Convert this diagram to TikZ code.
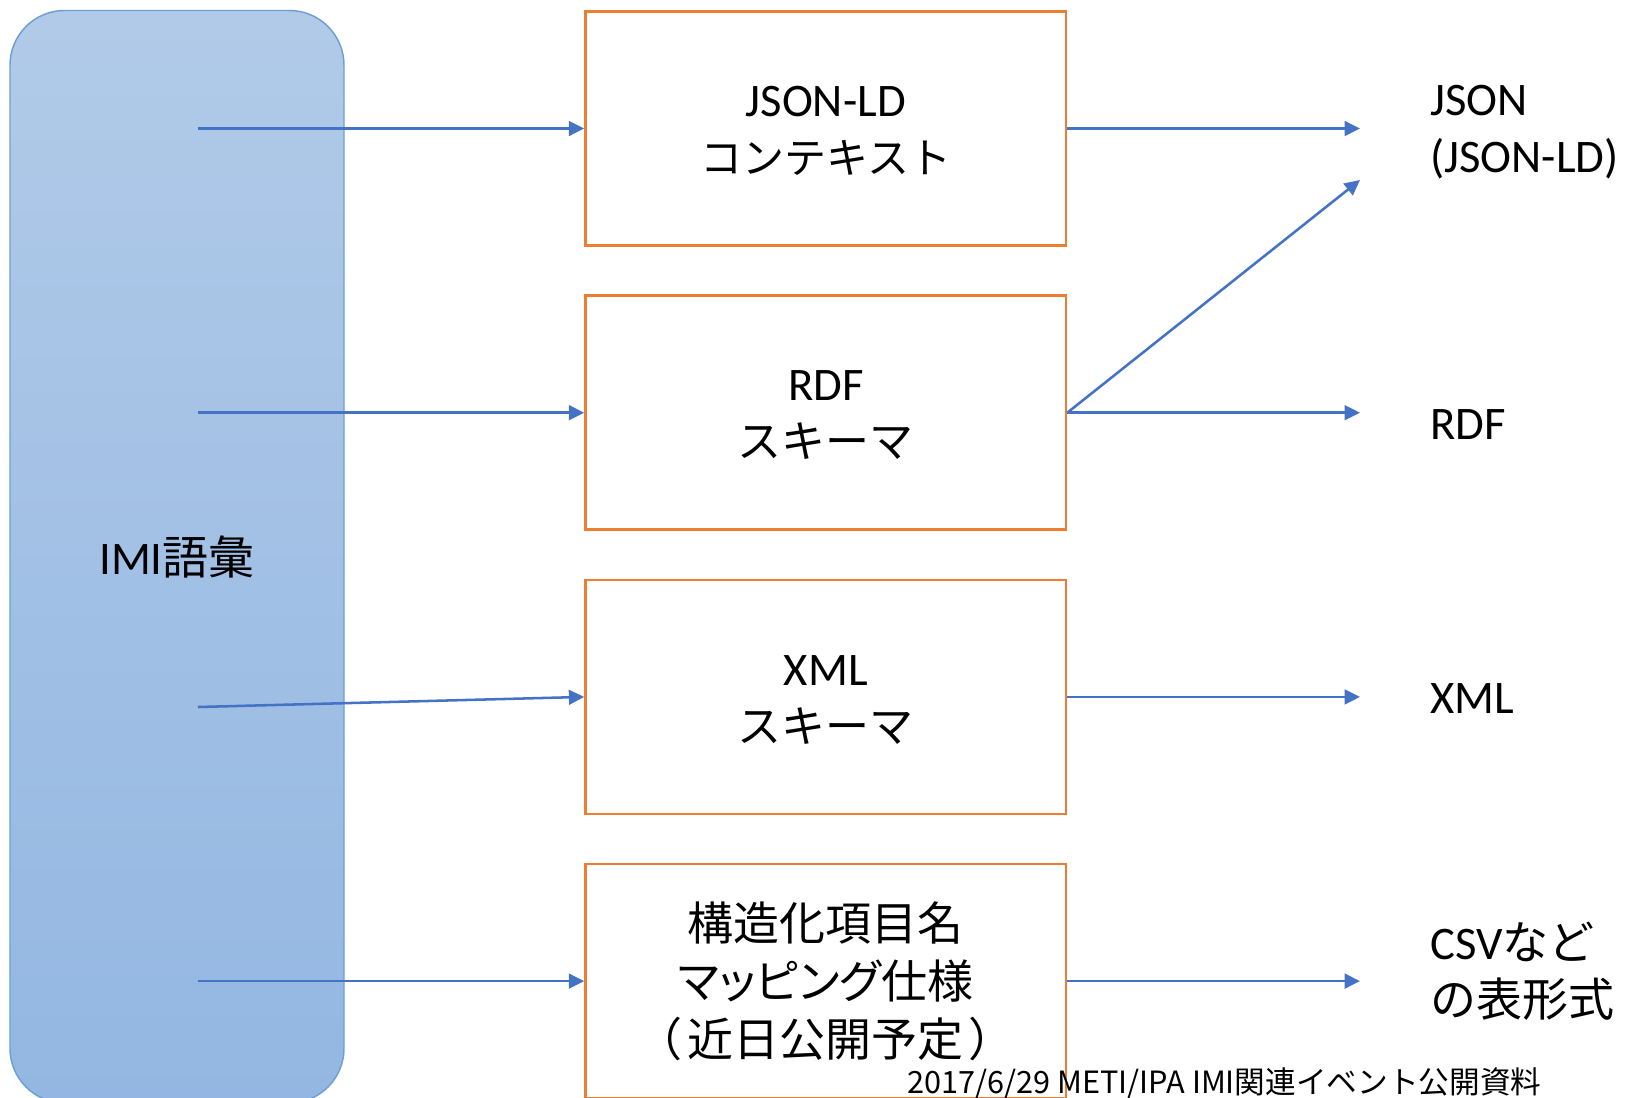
\documentclass[tikz,border=0pt]{standalone}
\usepackage{fontspec}
\setmainfont{Carlito}
\newfontfamily\jp{Noto Sans CJK JP}
\newfontfamily\jpp{Noto Sans CJK JP}[RawFeature=+palt]
\usetikzlibrary{arrows.meta}
\definecolor{arrowblue}{HTML}{4472C4}
\definecolor{boxorange}{HTML}{ED7D31}
\definecolor{vtop}{HTML}{B1CAE8}
\definecolor{vbot}{HTML}{93B7E2}
\definecolor{vedge}{HTML}{6C9FD6}
\begin{document}
\begin{tikzpicture}[x=0.75pt,y=-0.75pt,
  outbox/.style={draw=boxorange, line width=1.9pt, minimum width=360.4pt, minimum height=175.5pt, inner sep=0pt, align=center, font=\fontsize{35}{42.75}\selectfont},
  flow/.style={draw=arrowblue, line width=1.9pt, -{Triangle[length=11.5pt,width=11pt]}},
  outlabel/.style={anchor=west, align=left, inner sep=0pt, font=\fontsize{35}{42.75}\selectfont},
  vocabbox/.style={draw=vedge, line width=1.1pt, top color=vtop, bottom color=vbot, rounded corners=41pt, minimum width=250.5pt, minimum height=819.4pt, inner sep=0pt, font=\fontsize{35}{42.75}\selectfont},
]
\useasboundingbox (0,0) rectangle (1625,1097);
\clip (0,0) rectangle (1625,1097);

\node[vocabbox] (vocab) at (177,556.75) {IMI{\jp\fontsize{34.5}{40}\selectfont 語彙}};

\node[outbox] (b1) at (825.75,128.5) {\rule{0pt}{26.5pt}JSON-LD\\{\jp\fontsize{31.5}{40}\selectfont コンテキスト}};
\node[outbox] (b2) at (825.75,412.7) {\rule{0pt}{26.5pt}RDF\\{\jp\fontsize{33}{40}\selectfont スキーマ}};
\node[outbox] (b3) at (825.75,696.9) {\rule{0pt}{26.5pt}XML\\{\jp\fontsize{33}{40}\selectfont スキーマ}};
\node[outbox, font=\jpp\fontsize{34.5}{43.5}\selectfont] (b4) at (825.75,981.1) {構造化項目名\\マッピング仕様\\（\hspace{5pt}近日公開予定\hspace{5pt}）};

\coordinate (s1) at (198,128.5);
\coordinate (s2) at (198,412.7);
\coordinate (s3) at (198,707);
\coordinate (s4) at (198,981.1);
\coordinate (t1) at (1360,128.5);
\coordinate (tj) at (1360,180);
\coordinate (t2) at (1360,412.7);
\coordinate (t3) at (1360,696.9);
\coordinate (t4) at (1360,981.1);

\draw[flow] (s1) -- (b1.west);
\draw[flow] (s2) -- (b2.west);
\draw[flow] (s3) -- (b3.west);
\draw[flow] (s4) -- (b4.west);
\draw[flow] (b1.east) -- (t1);
\draw[flow] (b2.east) -- (tj);
\draw[flow] (b2.east) -- (t2);
\draw[flow] (b3.east) -- (t3);
\draw[flow] (b4.east) -- (t4);

\node[outlabel] (o1) at (1430,132) {JSON\\(JSON-LD)};
\node[outlabel] (o2) at (1430,425) {RDF};
\node[outlabel] (o3) at (1430,698.5) {XML};
\node[outlabel] (o4) at (1430,971.5) {CSV{\jp\fontsize{34.5}{40}\selectfont など}\\{\jp\fontsize{34.5}{40}\selectfont の表形式}};

\node[inner sep=0pt, font=\jp\fontsize{23}{28}\selectfont] (foot) at (1224.5,1083.5) {2017/6/29 METI/IPA IMI関連イベント公開資料};
\end{tikzpicture}
\end{document}
